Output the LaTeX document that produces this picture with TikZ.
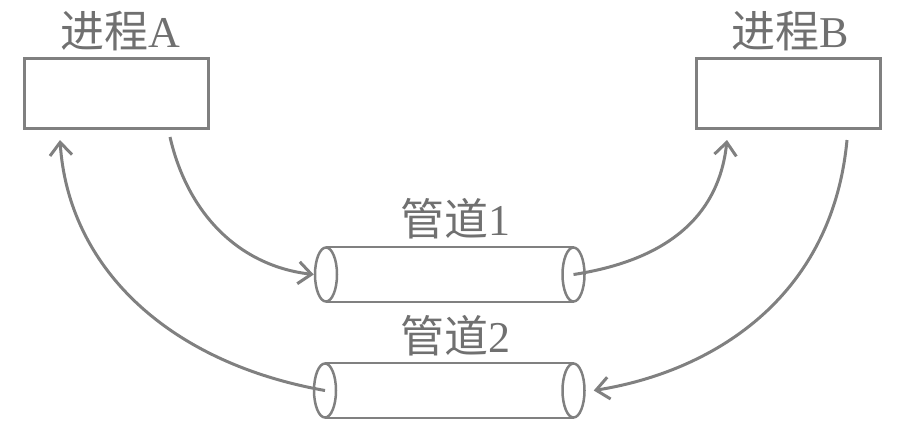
\documentclass[tikz,border=0pt]{standalone}
\usepackage{fontspec}
\setmainfont{Liberation Serif}
\newfontfamily\cjk{Noto Sans CJK SC}
\usetikzlibrary{arrows.meta,shapes.geometric}
\definecolor{linegray}{RGB}{128,128,128}
\definecolor{textgray}{RGB}{112,112,112}
\begin{document}
\begin{tikzpicture}[x=1pt,y=-1pt,
  procbox/.style={draw=linegray,line width=3pt,minimum width=184pt,minimum height=70pt,inner sep=0pt},
  pipeend/.style={ellipse,draw=linegray,line width=2.5pt,minimum width=22pt,minimum height=54pt,inner sep=0pt},
  pipeline/.style={draw=linegray,line width=2.5pt},
  lbl/.style={text=textgray,font=\fontsize{44pt}{48pt}\selectfont,inner sep=0pt},
  flow/.style={draw=linegray,line width=3pt,-{Straight Barb[length=13pt,width=22pt,line width=3pt]}}]
\useasboundingbox (0,0) rectangle (901,429);
% process boxes
\node[procbox] (A) at (116,93) {};
\node[procbox] (B) at (788.5,93) {};
\node[lbl] (la) at (120,31) {{\cjk 进程}A};
\node[lbl] (lb) at (790,31) {{\cjk 进程}B};
% pipe 1
\draw[pipeline] (326,247) -- (573.5,247) (326,302) -- (573.5,302);
\node[pipeend,fill=white] (p1l) at (326,274.5) {};
\node[pipeend,fill=white] (p1r) at (573.5,274.5) {};
\node[lbl] (l1) at (455,219) {{\cjk 管道}1};
% pipe 2
\draw[pipeline] (325,363) -- (573.5,363) (325,418) -- (573.5,418);
\node[pipeend,fill=white] (p2l) at (325,390.5) {};
\node[pipeend,fill=white] (p2r) at (573.5,390.5) {};
\node[lbl] (l2) at (455,336) {{\cjk 管道}2};
% connector points
\coordinate (a1s) at (170,137);
\coordinate (a2e) at (727,140);
\coordinate (a3s) at (847,140);
\coordinate (a4e) at (60,140);
% arrows
\draw[flow] (a1s) .. controls (188,215) and (240,266) .. (p1l.west);
\draw[flow] (p1r.center) .. controls (655,262) and (718,225) .. (a2e);
\draw[flow] (a3s) .. controls (832,300) and (710,372) .. ([xshift=8pt]p2r.east);
\draw[flow] (p2l.center) .. controls (165,362) and (68,265) .. (a4e);
\end{tikzpicture}
\end{document}
